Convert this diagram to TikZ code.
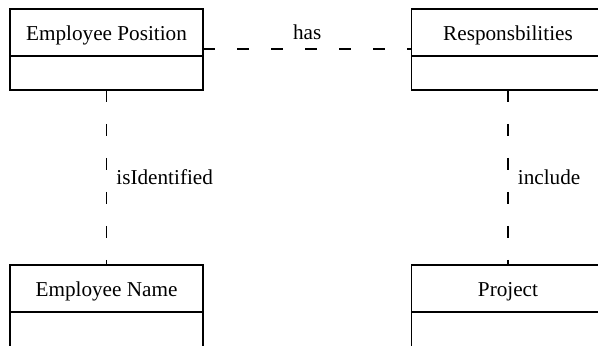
\documentclass[tikz,border=0pt]{standalone}
\usepackage{fontspec}
\setmainfont{Liberation Serif}
\usepackage{tikz}
\usetikzlibrary{positioning}

\begin{document}
\begin{tikzpicture}[
            x = 0.5pt, y = -0.5pt,
            every node/.append style = {font = \fontsize{10.6}{12}\selectfont},
            header/.style = {draw, line width = 0.9pt, outer sep = 0pt, minimum width = 96.5pt, minimum height = 23.5pt,
                inner sep = 0pt, text height = 8.5pt, text depth = 0pt},
            body/.style = {draw, line width = 0.9pt, outer sep = 0pt, minimum width = 96.5pt, minimum height = #1, inner sep = 0pt},
            link/.style = {line width = 0.9pt, dash pattern = on 6pt off 11pt}]
            \useasboundingbox (0,0) rectangle (598,346);
            \node[header] (pos) at (106.5,32.5) {Employee Position};
            \node[body = 17pt, below = 0pt of pos] (posbody) {};
            \node[header] (resp) at (508,32.5) {Responsbilities};
            \node[body = 17pt, below = 0pt of resp] (respbody) {};
            \node[header] (name) at (106.5,288.5) {Employee Name};
            \node[body = 30pt, below = 0pt of name] (namebody) {};
            \node[header] (proj) at (508,288.5) {Project};
            \node[body = 30pt, below = 0pt of proj] (projbody) {};
            % associations
            \draw[link] ([yshift = 3.5pt]pos.south east) -- ([yshift = 3.5pt]resp.south west)
                node[midway, above, inner sep = 4pt] {has};
            \draw[link] (posbody.south) -- (name.north)
                node[midway, anchor = west, inner sep = 4.5pt] {isIdentified};
            \draw[link] (respbody.south) -- (proj.north)
                node[midway, anchor = west, inner sep = 4.5pt] {include};
        \end{tikzpicture}
\end{document}
